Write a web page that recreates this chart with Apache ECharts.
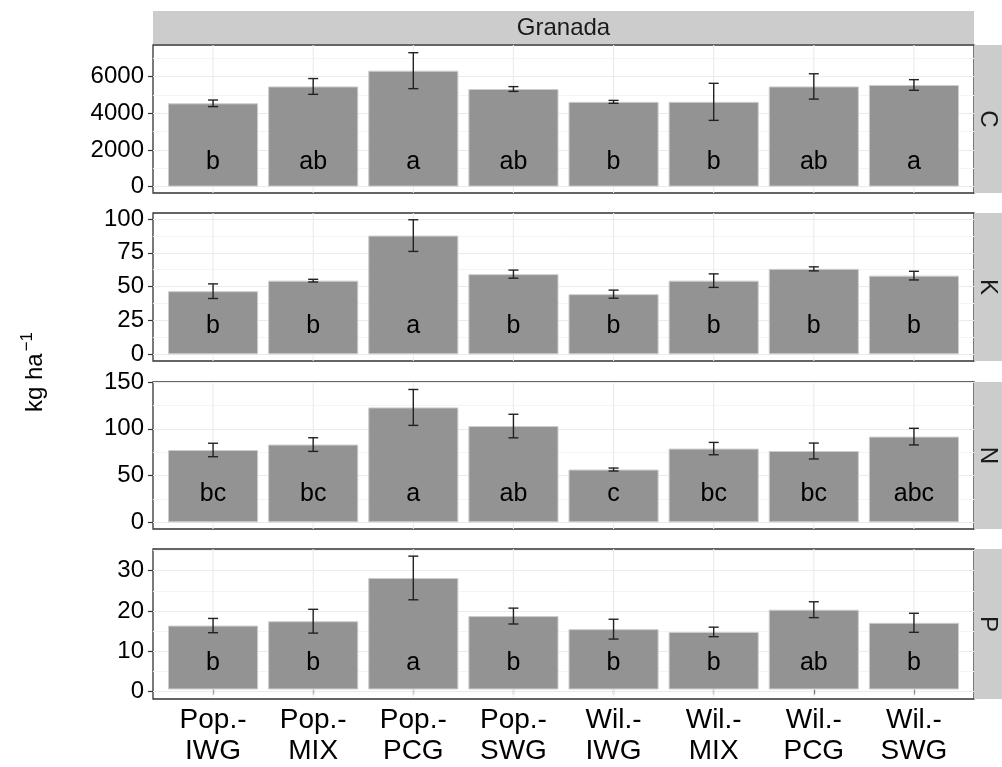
<!DOCTYPE html>
<html>
<head>
<meta charset="utf-8">
<script src="https://cdn.jsdelivr.net/npm/echarts@6/dist/echarts.min.js"></script>
<style>
html, body { margin: 0; padding: 0; background: #fff; }
#main { width: 1002px; height: 767px; }
</style>
</head>
<body>
<div id="main"></div>
<script>
// 处理组合
var categories = ['Pop.-\nIWG', 'Pop.-\nMIX', 'Pop.-\nPCG', 'Pop.-\nSWG', 'Wil.-\nIWG', 'Wil.-\nMIX', 'Wil.-\nPCG', 'Wil.-\nSWG'];

// C
var cMean = [4540, 5460, 6320, 5320, 4620, 4620, 5460, 5540];
var cSe = [180, 430, 980, 130, 80, 1010, 690, 290];
var cLetters = ['b', 'ab', 'a', 'ab', 'b', 'b', 'ab', 'a'];
var cTicks = [0, 2000, 4000, 6000];
var cMinor = [1000, 3000, 5000, 7000];

// K
var kMean = [46.6, 54.4, 87.7, 59.2, 44.4, 54.4, 63.1, 58.1];
var kSe = [5.4, 1.0, 11.7, 3.0, 3.0, 5.0, 1.5, 3.2];
var kLetters = ['b', 'b', 'a', 'b', 'b', 'b', 'b', 'b'];
var kTicks = [0, 25, 50, 75, 100];
var kMinor = [12.5, 37.5, 62.5, 87.5];

// N
var nMean = [77.4, 83.2, 122.9, 103.0, 56.5, 78.9, 76.3, 91.7];
var nSe = [7.2, 7.3, 19.2, 12.6, 1.6, 6.6, 8.5, 8.9];
var nLetters = ['bc', 'bc', 'a', 'ab', 'c', 'bc', 'bc', 'abc'];
var nTicks = [0, 50, 100, 150];
var nMinor = [25, 75, 125];

// P
var pMean = [16.1, 17.2, 28.1, 18.5, 15.2, 14.5, 20.1, 16.8];
var pSe = [1.8, 3.0, 5.5, 2.0, 2.5, 1.2, 2.0, 2.4];
var pLetters = ['b', 'b', 'a', 'b', 'b', 'b', 'ab', 'b'];
var pTicks = [0, 10, 20, 30];
var pMinor = [5, 15, 25, 35];

var stripTitle = 'Granada';

var font = "'Liberation Sans', Arial, sans-serif";

// 面板布局
var panels = [
	{ name: 'C', mean: cMean, se: cSe, letters: cLetters, ticks: cTicks, minor: cMinor, min: -350, max: 7720, top: 45, height: 148, labelGap: 12 },
	{ name: 'K', mean: kMean, se: kSe, letters: kLetters, ticks: kTicks, minor: kMinor, min: -5, max: 104.4, top: 213, height: 148, labelGap: 16 },
	{ name: 'N', mean: nMean, se: nSe, letters: nLetters, ticks: nTicks, minor: nMinor, min: -7.1, max: 150.1, top: 382, height: 147, labelGap: 16 },
	{ name: 'P', mean: pMean, se: pSe, letters: pLetters, ticks: pTicks, minor: pMinor, min: -1.9, max: 35.4, top: 549, height: 150, labelGap: 14 }
];

var grids = [], xAxes = [], yAxes = [], series = [], graphics = [];

graphics.push({
	type: 'rect',
	shape: { x: 153, y: 11, width: 821, height: 33 },
	style: { fill: '#cccccc' }
});
graphics.push({
	type: 'text',
	x: 563.5,
	y: 28,
	style: { text: stripTitle, font: '24px ' + font, fill: '#1a1a1a', textAlign: 'center', textVerticalAlign: 'middle' }
});
graphics.push({
	type: 'text',
	x: 33,
	y: 372,
	rotation: Math.PI / 2,
	style: {
		text: '{n|kg ha}{s|−1}',
		textAlign: 'center',
		textVerticalAlign: 'middle',
		rich: {
			n: { fontSize: 24, fontFamily: font, color: '#000', lineHeight: 28, verticalAlign: 'bottom' },
			s: { fontSize: 17, fontFamily: font, color: '#000', lineHeight: 28, verticalAlign: 'top', padding: [0, 0, 0, 2] }
		}
	}
});

panels.forEach(function(p, i) {
	var last = i == panels.length - 1;
	var outer = grids.length;
	grids.push({
		left: 153, right: 28, top: p.top, height: p.height,
		show: true, borderColor: '#333333', borderWidth: 1.3, backgroundColor: 'transparent'
	});
	var inner = grids.length;
	grids.push({ left: 163, right: 38, top: p.top, height: p.height });

	xAxes.push({ gridIndex: outer, type: 'category', data: categories, show: false });
	var xi = xAxes.length;
	xAxes.push({
		gridIndex: inner,
		type: 'category',
		data: categories,
		axisLine: { show: false },
		axisTick: { show: last, alignWithLabel: true, length: 5, lineStyle: { color: '#333', width: 1.2 } },
		axisLabel: { show: last, interval: 0, fontSize: 28, lineHeight: 31, fontFamily: font, color: '#000', margin: 8 },
		splitLine: { show: false }
	});

	yAxes.push({
		gridIndex: outer, type: 'value', position: 'left', min: p.min, max: p.max,
		axisLine: { show: false },
		axisTick: { show: true, length: 5, customValues: p.ticks, lineStyle: { color: '#333', width: 1.2 } },
		axisLabel: {
			customValues: p.ticks, fontSize: 24, fontFamily: font, color: '#000', margin: 9,
			formatter: function(v) { return String(v); }
		},
		splitLine: { show: true, lineStyle: { color: '#ebebeb', width: 1.1 } }
	});
	// 次网格线
	yAxes.push({
		gridIndex: outer, type: 'value', position: 'left', min: p.min, max: p.max,
		axisLine: { show: false },
		axisTick: { show: false, customValues: p.minor },
		axisLabel: { show: false, customValues: p.minor },
		minorTick: { show: false },
		splitLine: { show: true, lineStyle: { color: '#f4f4f4', width: 1 } }
	});
	var yi = yAxes.length;
	yAxes.push({ gridIndex: inner, type: 'value', min: p.min, max: p.max, show: false });

	// 竖向网格线
	series.push({
		type: 'custom',
		xAxisIndex: xi,
		yAxisIndex: yi,
		silent: true,
		z: 1,
		data: categories.map(function(c, j) { return [j, 0]; }),
		renderItem: function(params, api) {
			var x = api.coord([api.value(0), 0])[0];
			var cs = params.coordSys;
			return {
				type: 'line',
				shape: { x1: x, y1: cs.y, x2: x, y2: cs.y + cs.height },
				style: { stroke: '#ebebeb', lineWidth: 1.1 }
			};
		}
	});

	series.push({
		name: p.name,
		type: 'bar',
		xAxisIndex: xi,
		yAxisIndex: yi,
		barWidth: '90%',
		z: 2,
		data: p.mean,
		itemStyle: { color: '#939393', borderColor: '#cdcdcd', borderWidth: 1 },
		label: {
			show: true,
			position: 'insideBottom',
			distance: p.labelGap,
			fontSize: 25,
			fontFamily: font,
			color: '#000',
			formatter: function(params) { return p.letters[params.dataIndex]; }
		}
	});

	// 误差线
	series.push({
		type: 'custom',
		xAxisIndex: xi,
		yAxisIndex: yi,
		silent: true,
		z: 3,
		data: p.mean.map(function(m, j) { return [j, m - p.se[j], m + p.se[j]]; }),
		renderItem: function(params, api) {
			var lo = api.coord([api.value(0), api.value(1)]);
			var hi = api.coord([api.value(0), api.value(2)]);
			var w = 5;
			var st = { stroke: '#222', lineWidth: 1.4 };
			return {
				type: 'group',
				children: [
					{ type: 'line', shape: { x1: lo[0], y1: lo[1], x2: hi[0], y2: hi[1] }, style: st },
					{ type: 'line', shape: { x1: lo[0] - w, y1: lo[1], x2: lo[0] + w, y2: lo[1] }, style: st },
					{ type: 'line', shape: { x1: hi[0] - w, y1: hi[1], x2: hi[0] + w, y2: hi[1] }, style: st }
				]
			};
		}
	});

	// 右侧分面标签
	graphics.push({
		type: 'rect',
		shape: { x: 974, y: p.top, width: 28, height: p.height },
		style: { fill: '#cccccc' }
	});
	graphics.push({
		type: 'text',
		x: 988,
		y: p.top + p.height / 2,
		rotation: -Math.PI / 2,
		style: { text: p.name, font: '24px ' + font, fill: '#1a1a1a', textAlign: 'center', textVerticalAlign: 'middle' }
	});
});

var chart = echarts.init(document.getElementById('main'));
chart.setOption({
	animation: false,
	backgroundColor: '#fff',
	grid: grids,
	xAxis: xAxes,
	yAxis: yAxes,
	series: series,
	graphic: graphics
});
</script>
</body>
</html>
